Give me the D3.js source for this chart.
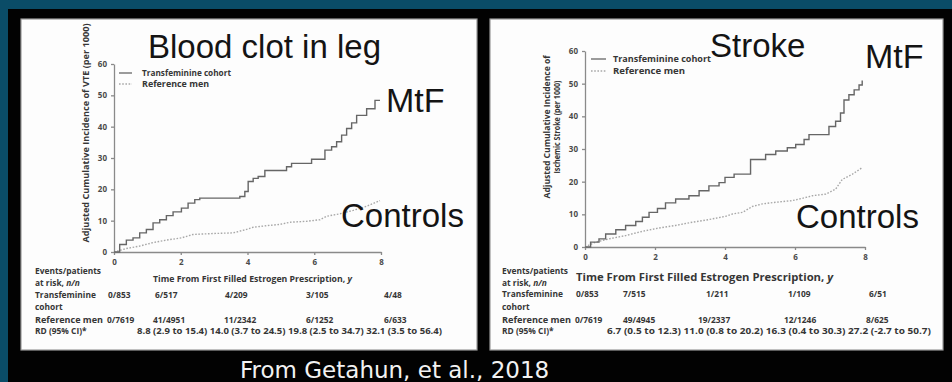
<!DOCTYPE html>
<html><head><meta charset="utf-8">
<script src="https://cdn.jsdelivr.net/npm/d3@7"></script>
<style>
html,body{margin:0;padding:0;background:#0a4c67;}
svg{display:block;}
</style></head>
<body>
<svg id="c" width="952" height="382"></svg>
<script>
// ---------------- DATA ----------------
const xTicks = [0, 2, 4, 6, 8];
const yTicks = [0, 10, 20, 30, 40, 50, 60];

// Left panel: VTE
const vteYears   = [0,0.17,0.37,0.57,0.77,0.97,1.17,1.37,1.57,1.77,2.02,2.22,2.42,2.57,3.57,3.77,3.92,4.02,4.17,4.32,4.52,5.07,5.17,5.32,5.87,5.92,6.27,6.32,6.52,6.67,6.82,6.97,7.12,7.27,7.52,7.57,7.77,7.82,7.97];
const vteTrans   = [0,2.4,3.8,4.5,6.1,7.2,9.3,10.3,11.6,12.8,14.0,15.6,16.7,17.2,17.2,17.7,19.3,22.5,23.5,24.1,26.0,26.0,27.2,28.3,28.3,29.6,29.6,32.5,33.6,35.2,37.3,39.4,41.2,43.6,43.6,45.7,45.7,48.4,48.4];
const vteRefYears= [0,0.37,0.77,1.17,1.57,2.02,2.37,2.97,3.57,3.97,4.17,4.57,4.97,5.27,5.77,6.17,6.37,6.77,7.17,7.57,7.97];
const vteRef     = [0,1.1,1.9,3.0,3.8,4.5,5.6,5.9,6.1,7.2,7.9,8.4,8.8,9.5,9.8,10.3,11.4,12.2,13.3,14.6,16.4];

// Right panel: Ischemic stroke
const strokeYears  = [0,0.16,0.40,0.59,0.88,1.16,1.45,1.64,1.83,2.07,2.30,2.59,2.97,3.26,3.54,3.83,4.0,4.26,4.59,4.73,5.07,5.16,5.45,5.78,6.02,6.26,6.40,6.88,6.97,7.16,7.30,7.40,7.54,7.69,7.83,7.92];
const strokeTrans  = [0,1.5,2.5,4.0,5.3,6.6,7.8,9.1,10.6,11.8,13.5,14.7,15.7,17.2,18.7,19.7,21.3,22.3,22.3,26.8,26.8,28.3,29.4,30.4,31.4,32.9,34.4,34.4,36.9,38.5,41.0,45.0,46.6,48.1,49.6,51.0];
const strokeRefYears=[0,0.30,0.69,1.16,1.64,2.11,2.59,3.07,3.54,4.02,4.21,4.50,4.78,5.07,5.45,5.92,6.21,6.50,6.88,7.16,7.35,7.64,7.92];
const strokeRef    = [0,1.5,2.5,3.5,4.8,5.8,6.6,7.6,8.4,9.4,10.1,10.6,12.4,13.2,13.7,14.2,14.9,15.7,16.2,17.7,20.7,22.3,24.3];

// Table texts
const rowLabels = ["Transfeminine", "cohort", "Reference men", "RD (95% CI)*"];
const vteRiskTrans = ["0/853","6/517","4/209","3/105","4/48"];
const vteRiskRef   = ["0/7619","41/4951","11/2342","6/1252","6/633"];
const vteRD        = ["8.8 (2.9 to 15.4)","14.0 (3.7 to 24.5)","19.8 (2.5 to 34.7)","32.1 (3.5 to 56.4)"];
const strokeRiskTrans = ["0/853","7/515","1/211","1/109","6/51"];
const strokeRiskRef   = ["0/7619","49/4945","19/2337","12/1246","8/625"];
const strokeRD        = ["6.7 (0.5 to 12.3)","11.0 (0.8 to 20.2)","16.3 (0.4 to 30.3)","27.2 (-2.7 to 50.7)"];

const legendLabels = ["Transfeminine cohort", "Reference men"];
const footer = "From Getahun, et al., 2018";

// ---------------- DRAW ----------------
const svg = d3.select("#c");
svg.append("rect").attr("width",952).attr("height",382).attr("fill","#0a4c67");
svg.append("rect").attr("x",8).attr("y",9).attr("width",944).attr("height",373).attr("fill","#020202");

const small = "'Open Sans', 'Noto Sans', sans-serif";
const big = "'Liberation Sans', Arial, sans-serif";
const txtCol = "#363636";
const W = 700;

function panel(cfg){
  const g = svg.append("g");
  g.append("rect").attr("x",cfg.px).attr("y",cfg.py).attr("width",cfg.pw).attr("height",cfg.ph)
    .attr("fill","#fdfdfd").attr("stroke","#9a9a9a").attr("stroke-width",1.2);

  const x = d3.scaleLinear().domain([0,8]).range(cfg.xr);
  const y = d3.scaleLinear().domain([0,60]).range(cfg.yr);

  const ax = g.append("g").attr("transform",`translate(0,${cfg.yr[0]})`)
    .call(d3.axisBottom(x).tickValues(xTicks).tickSize(3).tickSizeOuter(0).tickPadding(4));
  const ay = g.append("g").attr("transform",`translate(${cfg.xr[0]},0)`)
    .call(d3.axisLeft(y).tickValues(yTicks).tickSize(3).tickSizeOuter(0).tickPadding(4));
  [ax,ay].forEach(a=>{
    a.select(".domain").attr("stroke","#8a8a8a").attr("stroke-width",1.3);
    a.selectAll(".tick line").attr("stroke","#8a8a8a").attr("stroke-width",1.3);
    a.selectAll(".tick text").attr("fill","#4a4a4a").attr("font-family",small)
      .attr("font-weight",W).attr("font-size",8);
  });

  const line = d3.line().x(d=>x(d[0])).y(d=>y(d[1]));
  g.append("path").datum(d3.zip(cfg.refYears,cfg.ref))
    .attr("d",line.curve(d3.curveLinear)).attr("fill","none")
    .attr("stroke","#a8a8a8").attr("stroke-width",1.4).attr("stroke-dasharray","1.6,1.6");
  g.append("path").datum(d3.zip(cfg.transYears,cfg.trans))
    .attr("d",d3.line().x(d=>x(d[0])).y(d=>y(d[1])).curve(d3.curveStepAfter)).attr("fill","none")
    .attr("stroke","#666").attr("stroke-width",1.4);

  // legend
  const lg = cfg.legend;
  g.append("line").attr("x1",lg.x1).attr("x2",lg.x2).attr("y1",lg.y[0]).attr("y2",lg.y[0])
    .attr("stroke","#666").attr("stroke-width",1.3);
  g.append("line").attr("x1",lg.x1).attr("x2",lg.x2).attr("y1",lg.y[1]).attr("y2",lg.y[1])
    .attr("stroke","#a8a8a8").attr("stroke-width",1.3).attr("stroke-dasharray","1.6,1.6");
  legendLabels.forEach((t,i)=>{
    g.append("text").attr("x",lg.tx).attr("y",lg.y[i]).attr("dy","0.35em").text(t)
      .attr("font-family",small).attr("font-weight",W).attr("font-size",8).attr("fill",txtCol)
      .attr("textLength",lg.len[i]).attr("lengthAdjust","spacingAndGlyphs");
  });

  // y label
  cfg.ylab.lines.forEach((t,i)=>{
    g.append("text").attr("transform",`translate(${cfg.ylab.x[i]},${cfg.ylab.cy}) rotate(-90)`)
      .attr("text-anchor","middle").attr("dy","0.35em").text(t)
      .attr("font-family",small).attr("font-weight",W).attr("font-size",cfg.ylab.fs).attr("fill",txtCol)
      .attr("textLength",cfg.ylab.len[i]).attr("lengthAdjust","spacingAndGlyphs");
  });

  // x title
  g.append("text").attr("x",cfg.xt.x).attr("y",cfg.xt.y).attr("dy","0.35em")
    .attr("font-family",small).attr("font-weight",W).attr("font-size",cfg.xt.fs).attr("fill",txtCol)
    .attr("textLength",cfg.xt.len).attr("lengthAdjust","spacingAndGlyphs")
    .html("Time From First Filled Estrogen Prescription, <tspan font-style='italic'>y</tspan>");

  // table
  const tb = cfg.table;
  const fs = 8.4;
  const tt = (xx,yy,t)=>g.append("text").attr("x",xx).attr("y",yy).attr("dy","0.35em").text(t)
    .attr("font-family",small).attr("font-weight",W).attr("font-size",fs).attr("fill",txtCol);
  tt(tb.lx, tb.rows[0], "Events/patients");
  g.append("text").attr("x",tb.lx).attr("y",tb.rows[1]).attr("dy","0.35em")
    .attr("font-family",small).attr("font-weight",W).attr("font-size",fs).attr("fill",txtCol)
    .html("at risk, <tspan font-style='italic'>n/n</tspan>");
  tt(tb.lx, tb.rows[2], rowLabels[0]);
  tt(tb.lx, tb.rows[3], rowLabels[1]);
  tt(tb.lx, tb.rows[4], rowLabels[2]).attr("textLength",tb.rmlen).attr("lengthAdjust","spacingAndGlyphs");
  tt(tb.lx, tb.rows[5], rowLabels[3]);
  cfg.riskTrans.forEach((t,i)=>tt(tb.cT[i], tb.rows[2], t));
  cfg.riskRef.forEach((t,i)=>tt(tb.cR[i], tb.rows[4], t));
  tt(tb.rdx, tb.rows[5], cfg.rd.join(" ")).attr("textLength",tb.rdlen).attr("lengthAdjust","spacingAndGlyphs");

  // big annotations
  cfg.big.forEach(b=>{
    g.append("text").attr("x",b.x).attr("y",b.y).text(b.t)
      .attr("font-family",big).attr("font-size",b.fs).attr("fill","#141414");
  });
}

panel({
  px:21, py:19, pw:456, ph:331,
  xr:[114,381], yr:[252,64],
  transYears:vteYears, trans:vteTrans, refYears:vteRefYears, ref:vteRef,
  legend:{x1:119,x2:132,tx:142,y:[73,84],len:[89,67]},
  ylab:{lines:["Adjusted Cumulative Incidence of VTE (per 1000)"], x:[86], cy:133, fs:8.4, len:[219]},
  xt:{x:153,y:279,fs:8.6,len:199},
  table:{lx:35, rows:[271.5,283,295,307.5,319.8,331.5], cT:[108,155,225,306,384], cR:[107,153,224,306,384], rdx:137, rdlen:305, rmlen:68},
  riskTrans:vteRiskTrans, riskRef:vteRiskRef, rd:vteRD,
  big:[{t:"Blood clot in leg",x:148,y:58,fs:33},{t:"MtF",x:386,y:112,fs:34},{t:"Controls",x:341,y:227,fs:33}]
});

panel({
  px:490, py:19, pw:453, ph:331,
  xr:[585,865], yr:[247,51],
  transYears:strokeYears, trans:strokeTrans, refYears:strokeRefYears, ref:strokeRef,
  legend:{x1:591,x2:606,tx:613,y:[59,71],len:[98,72]},
  ylab:{lines:["Adjusted Cumulative Incidence of","Ischemic Stroke (per 1000)"], x:[547,557], cy:127, fs:8.6, len:[143,93]},
  xt:{x:576,y:277,fs:10,len:257},
  table:{lx:502, rows:[271.5,283,294.5,307,319.8,331.5], cT:[576,623,706,788,869], cR:[575,623,698,784,866], rdx:607, rdlen:324, rmlen:69},
  riskTrans:strokeRiskTrans, riskRef:strokeRiskRef, rd:strokeRD,
  big:[{t:"Stroke",x:710,y:57,fs:33},{t:"MtF",x:865,y:68,fs:34},{t:"Controls",x:796,y:228,fs:33}]
});

svg.append("text").attr("x",240).attr("y",378).text(footer)
  .attr("font-family","'DejaVu Sans', sans-serif").attr("font-size",23).attr("fill","#f2f2f2");
</script>
</body></html>
